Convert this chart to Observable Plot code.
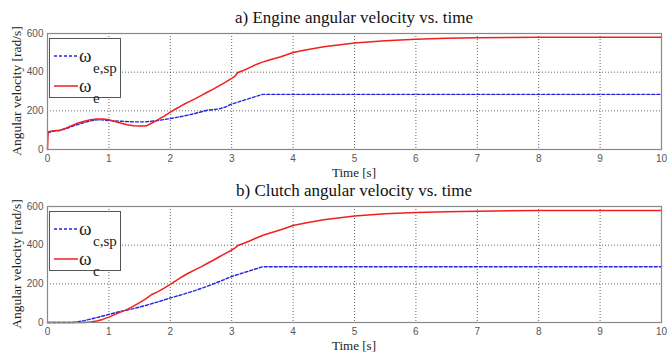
<!DOCTYPE html>
<html>
<head>
<meta charset="utf-8">
<script src="https://cdn.jsdelivr.net/npm/d3@7"></script>
<script src="https://cdn.jsdelivr.net/npm/@observablehq/plot@0.6"></script>
<style>
  html, body { margin: 0; padding: 0; background: #fff; }
  #wrap { position: relative; width: 671px; height: 360px; overflow: hidden; }
  .panel { position: absolute; left: 0; width: 671px; height: 180px; }
  .panel svg { position: absolute; left: 0; top: 0; }
  .title { position: absolute; left: 47px; width: 614px; text-align: center;
           font: 17px "Liberation Serif", "Times New Roman", serif; color: #111; white-space: nowrap; }
  .xlab { position: absolute; left: 47px; width: 614px; text-align: center;
          font: 13px "Liberation Serif", serif; color: #222; }
  .ylab { position: absolute; width: 200px; text-align: center; left: -83px;
          font: 13.5px "Liberation Serif", serif; color: #222; transform: rotate(-90deg); white-space: nowrap; }
  .legend { position: absolute; left: 49px; width: 72px; background: #fff; border: 1px solid #555; box-sizing: border-box; }
  .entry { position: absolute; left: 3px; height: 30px; width: 68px; }
  .entry svg { position: absolute; left: 0; }
  .sym { position: absolute; left: 26px; font: 19px "Liberation Serif", serif; color: #222; line-height: 1; }
  .sub { position: absolute; left: 40px; font: 15px "Liberation Serif", serif; color: #222; white-space: nowrap; line-height: 1; }
</style>
</head>
<body>
<div id="wrap"></div>
<script>
// Engine panel: set-point and measured engine speed [rad/s] vs time [s]
const tEngSp = [0, 0.1, 0.2, 0.3, 0.4, 0.5, 0.6, 0.7, 0.8, 0.9, 1.0, 1.2, 1.4, 1.6, 1.8, 2.0, 2.2, 2.4, 2.6, 2.8, 2.9, 3.0, 3.2, 3.4, 3.5, 10];
const wEngSp = [85, 95, 98, 108, 120, 130, 140, 148, 153, 153, 150, 146, 143, 143, 150, 160, 172, 186, 203, 210, 220, 235, 255, 275, 285, 285];
const tEng = [0, 0.01, 0.1, 0.2, 0.3, 0.4, 0.5, 0.6, 0.7, 0.8, 0.9, 1.0, 1.1, 1.2, 1.3, 1.4, 1.5, 1.6, 1.7, 1.8, 1.9, 2.0, 2.1, 2.2, 2.3, 2.4, 2.5, 2.6, 2.7, 2.8, 2.9, 3.0, 3.05, 3.1, 3.2, 3.3, 3.4, 3.5, 3.6, 3.8, 4.0, 4.2, 4.5, 5.0, 5.5, 6.0, 6.5, 7.0, 8.0, 10];
const wEng = [0, 92, 97, 100, 110, 125, 137, 146, 154, 158, 158, 154, 145, 136, 128, 123, 121, 121, 137, 155, 173, 193, 212, 230, 246, 262, 279, 296, 312, 330, 348, 368, 378, 398, 410, 425, 440, 452, 462, 480, 502, 515, 532, 551, 562, 570, 575, 578, 580, 580];

// Clutch panel: set-point and measured clutch speed [rad/s] vs time [s]
const tCluSp = [0, 0.4, 0.5, 0.6, 0.8, 1.0, 1.2, 1.4, 1.6, 1.8, 2.0, 2.2, 2.4, 2.6, 2.8, 3.0, 3.2, 3.4, 3.5, 10];
const wCluSp = [0, 0, 4, 10, 25, 42, 58, 72, 88, 107, 127, 145, 165, 187, 212, 238, 258, 278, 288, 288];
const tClu = [0, 0.6, 0.7, 0.8, 0.9, 1.0, 1.1, 1.2, 1.3, 1.4, 1.5, 1.6, 1.7, 1.8, 1.9, 2.0, 2.1, 2.2, 2.3, 2.4, 2.5, 2.6, 2.7, 2.8, 2.9, 3.0, 3.05, 3.1, 3.2, 3.3, 3.4, 3.5, 3.6, 3.8, 4.0, 4.2, 4.5, 5.0, 5.5, 6.0, 6.5, 7.0, 8.0, 10];
const wClu = [0, 0, 3, 8, 16, 28, 42, 55, 68, 85, 103, 122, 145, 160, 178, 197, 218, 238, 256, 272, 288, 305, 322, 340, 358, 375, 385, 398, 410, 423, 437, 450, 460, 480, 502, 515, 532, 551, 562, 569, 573, 576, 579, 579];

const xTicks = [0, 1, 2, 3, 4, 5, 6, 7, 8, 9, 10];
const yTicks = [0, 200, 400, 600];

const RED = "#f0201e", BLUE = "#2424e0";
const pts = (t, w) => t.map((x, i) => ({t: x, w: w[i]}));

function panel({top, title, sp, meas, subSp, subMeas, mTop, mBottom}) {
  const div = document.createElement("div");
  div.className = "panel";
  div.style.top = top + "px";

  const chart = Plot.plot({
    width: 671, height: 180,
    marginLeft: 47, marginRight: 10, marginTop: mTop, marginBottom: mBottom,
    style: {background: "transparent", fontFamily: "'Liberation Sans', Arial, sans-serif", fontSize: "10px", color: "#555"},
    x: {domain: [0, 10], ticks: xTicks, tickSize: 0, tickPadding: 5, label: null},
    y: {domain: [0, 600], ticks: yTicks, tickSize: 0, tickPadding: 4, label: null},
    marks: [
      Plot.gridX(xTicks, {stroke: "#333", strokeOpacity: 0.75, strokeDasharray: "1,2"}),
      Plot.gridY(yTicks, {stroke: "#333", strokeOpacity: 0.75, strokeDasharray: "1,2"}),
      Plot.line(sp, {x: "t", y: "w", stroke: BLUE, strokeWidth: 1.4, strokeDasharray: "3,2"}),
      Plot.line(meas, {x: "t", y: "w", stroke: RED, strokeWidth: 1.5}),
      Plot.frame({stroke: "#888", strokeWidth: 1.2}),
      Plot.axisX({ticks: xTicks, tickSize: 0, tickPadding: 5, label: null}),
      Plot.axisY({ticks: yTicks, tickSize: 0, tickPadding: 4, label: null})
    ]
  });
  div.appendChild(chart);

  const plotTop = mTop, plotBottom = 180 - mBottom;

  const ttl = document.createElement("div");
  ttl.className = "title";
  ttl.textContent = title;
  ttl.style.top = (mTop - 25) + "px";
  div.appendChild(ttl);

  const xl = document.createElement("div");
  xl.className = "xlab";
  xl.textContent = "Time [s]";
  xl.style.top = (plotBottom + 16) + "px";
  div.appendChild(xl);

  const yl = document.createElement("div");
  yl.className = "ylab";
  yl.textContent = "Angular velocity [rad/s]";
  yl.style.top = ((plotTop + plotBottom) / 2 - 8) + "px";
  div.appendChild(yl);

  // legend box in the upper-left corner of the axes
  const lg = document.createElement("div");
  lg.className = "legend";
  lg.style.top = (plotTop + 5) + "px";
  lg.style.height = "60px";
  const entries = [
    {color: BLUE, dash: "3,2", sub: subSp, y: 4},
    {color: RED, dash: null, sub: subMeas, y: 34}
  ];
  for (const e of entries) {
    const en = document.createElement("div");
    en.className = "entry";
    en.style.top = e.y + "px";
    en.innerHTML =
      `<svg width="26" height="30" style="top:0"><line x1="1" x2="25" y1="13" y2="13" stroke="${e.color}" stroke-width="1.5"${e.dash ? ` stroke-dasharray="${e.dash}"` : ""}/></svg>` +
      `<span class="sym" style="top:3px">ω</span>` +
      `<span class="sub" style="top:18px">${e.sub}</span>`;
    lg.appendChild(en);
  }
  div.appendChild(lg);
  return div;
}

const wrap = document.getElementById("wrap");
wrap.appendChild(panel({
  top: 0, title: "a) Engine angular velocity vs. time",
  sp: pts(tEngSp, wEngSp), meas: pts(tEng, wEng),
  subSp: "e,sp", subMeas: "e", mTop: 33, mBottom: 31
}));
wrap.appendChild(panel({
  top: 180, title: "b) Clutch angular velocity vs. time",
  sp: pts(tCluSp, wCluSp), meas: pts(tClu, wClu),
  subSp: "c,sp", subMeas: "c", mTop: 26, mBottom: 38
}));
</script>
</body>
</html>
